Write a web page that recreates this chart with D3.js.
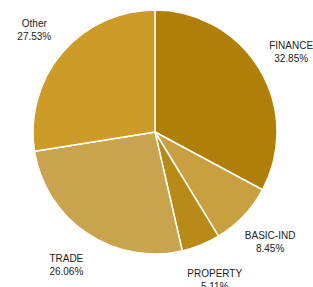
<!DOCTYPE html>
<html>
<head>
<meta charset="utf-8">
<script src="https://cdn.jsdelivr.net/npm/d3@7"></script>
<style>
  body { margin: 0; background: #fff; }
  svg { display: block; }
</style>
</head>
<body>
<svg id="chart"></svg>
<script>
const width = 313;
const height = 287;

const sectors = ["FINANCE", "BASIC-IND", "PROPERTY", "TRADE", "Other"];
const shares = [32.85, 8.45, 5.11, 26.06, 27.53];
const colours = ["#af7f08", "#c8a040", "#b88a18", "#c9a44e", "#cc9b28"];

const cx = 155;
const cy = 132;
const radius = 122;

const svg = d3.select("#chart")
    .attr("width", width)
    .attr("height", height);

const pie = d3.pie().sort(null).value(d => d.value);
const arc = d3.arc().innerRadius(0).outerRadius(radius);
const labelArc = d3.arc().innerRadius(radius * 1.3).outerRadius(radius * 1.3);

const data = sectors.map((s, i) => ({ name: s, value: shares[i], colour: colours[i] }));
const arcs = pie(data);

const g = svg.append("g").attr("transform", `translate(${cx},${cy})`);

g.selectAll("path")
    .data(arcs)
    .enter().append("path")
    .attr("d", arc)
    .attr("fill", d => d.data.colour)
    .attr("stroke", "#fff")
    .attr("stroke-width", 1.5);

const labels = g.selectAll("text.label")
    .data(arcs)
    .enter().append("text")
    .attr("class", "label")
    .attr("transform", d => `translate(${labelArc.centroid(d)})`)
    .attr("text-anchor", "middle")
    .style("font-family", "'Liberation Sans', Arial, sans-serif")
    .style("font-size", "10px")
    .style("fill", "#222");

labels.append("tspan")
    .attr("x", 0)
    .attr("y", -2)
    .text(d => d.data.name);

labels.append("tspan")
    .attr("x", 0)
    .attr("y", 11)
    .text(d => d3.format(".2f")(d.data.value) + "%");
</script>
</body>
</html>
